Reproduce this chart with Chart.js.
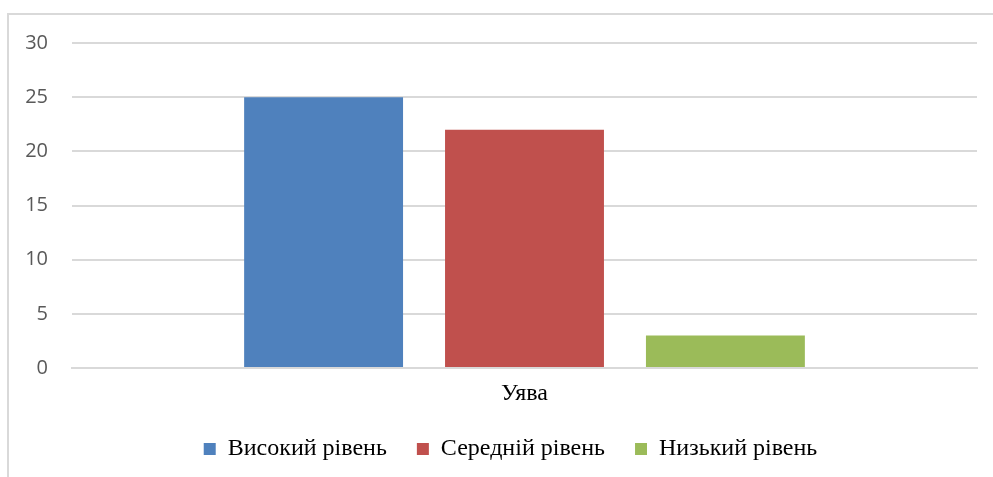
<!DOCTYPE html>
<html>
<head>
<meta charset="utf-8">
<script src="https://cdn.jsdelivr.net/npm/chart.js@4"></script>
<style>
  html, body { margin: 0; padding: 0; background: #fff; }
  #frame { position: absolute; left: 7px; top: 13px; width: 1000px; height: 480px;
           border-left: 2px solid #d9d9d9; border-top: 2px solid #d9d9d9; }
  #wrap { position: absolute; left: 0; top: 0; width: 993px; height: 477px; }
</style>
</head>
<body>
<div id="frame"></div>
<div id="wrap"><canvas id="chart" width="993" height="477"></canvas></div>
<script>
const categories = ['Уява'];
const seriesNames = ['Високий рівень', 'Середній рівень', 'Низький рівень'];
const seriesValues = [[25], [22], [3]];
const seriesColors = ['#4f81bd', '#c0504d', '#9bbb59'];
const yTicks = [0, 5, 10, 15, 20, 25, 30];

const serif = '"Liberation Serif", "Times New Roman", serif';
const sans = '"Open Sans", "Liberation Sans", sans-serif';

// legend sits a bit right of centre in the original
const shiftLegend = {
  id: 'shiftLegend',
  afterLayout(chart) {
    chart.legend.left += 22;
    chart.legend.right += 22;
  }
};

const ctx = document.getElementById('chart').getContext('2d');
new Chart(ctx, {
  type: 'bar',
  data: {
    labels: categories,
    datasets: seriesNames.map((name, i) => ({
      label: name,
      data: seriesValues[i],
      backgroundColor: seriesColors[i],
      categoryPercentage: 0.666,
      barPercentage: 0.791
    }))
  },
  options: {
    responsive: false,
    animation: false,
    layout: { padding: { left: 0, right: 16, top: 43, bottom: 6 } },
    plugins: {
      tooltip: { enabled: false },
      legend: {
        position: 'bottom',
        labels: {
          boxWidth: 12, boxHeight: 12, padding: 30,
          color: '#000', font: { family: serif, size: 24 }
        }
      }
    },
    scales: {
      x: {
        grid: { display: false },
        border: { color: '#d9d9d9', width: 2 },
        ticks: { color: '#000', font: { family: serif, size: 24 }, padding: 3 },
        afterFit: s => { s.height = 39; }
      },
      y: {
        min: 0, max: 30,
        afterBuildTicks: s => { s.ticks = yTicks.map(v => ({ value: v })); },
        grid: { color: '#d9d9d9', lineWidth: 2, drawTicks: false },
        border: { display: false },
        ticks: { color: '#595959', font: { family: sans, size: 20 }, padding: 24 },
        afterFit: s => { s.width = 72; }
      }
    }
  },
  plugins: [shiftLegend]
});
</script>
</body>
</html>
